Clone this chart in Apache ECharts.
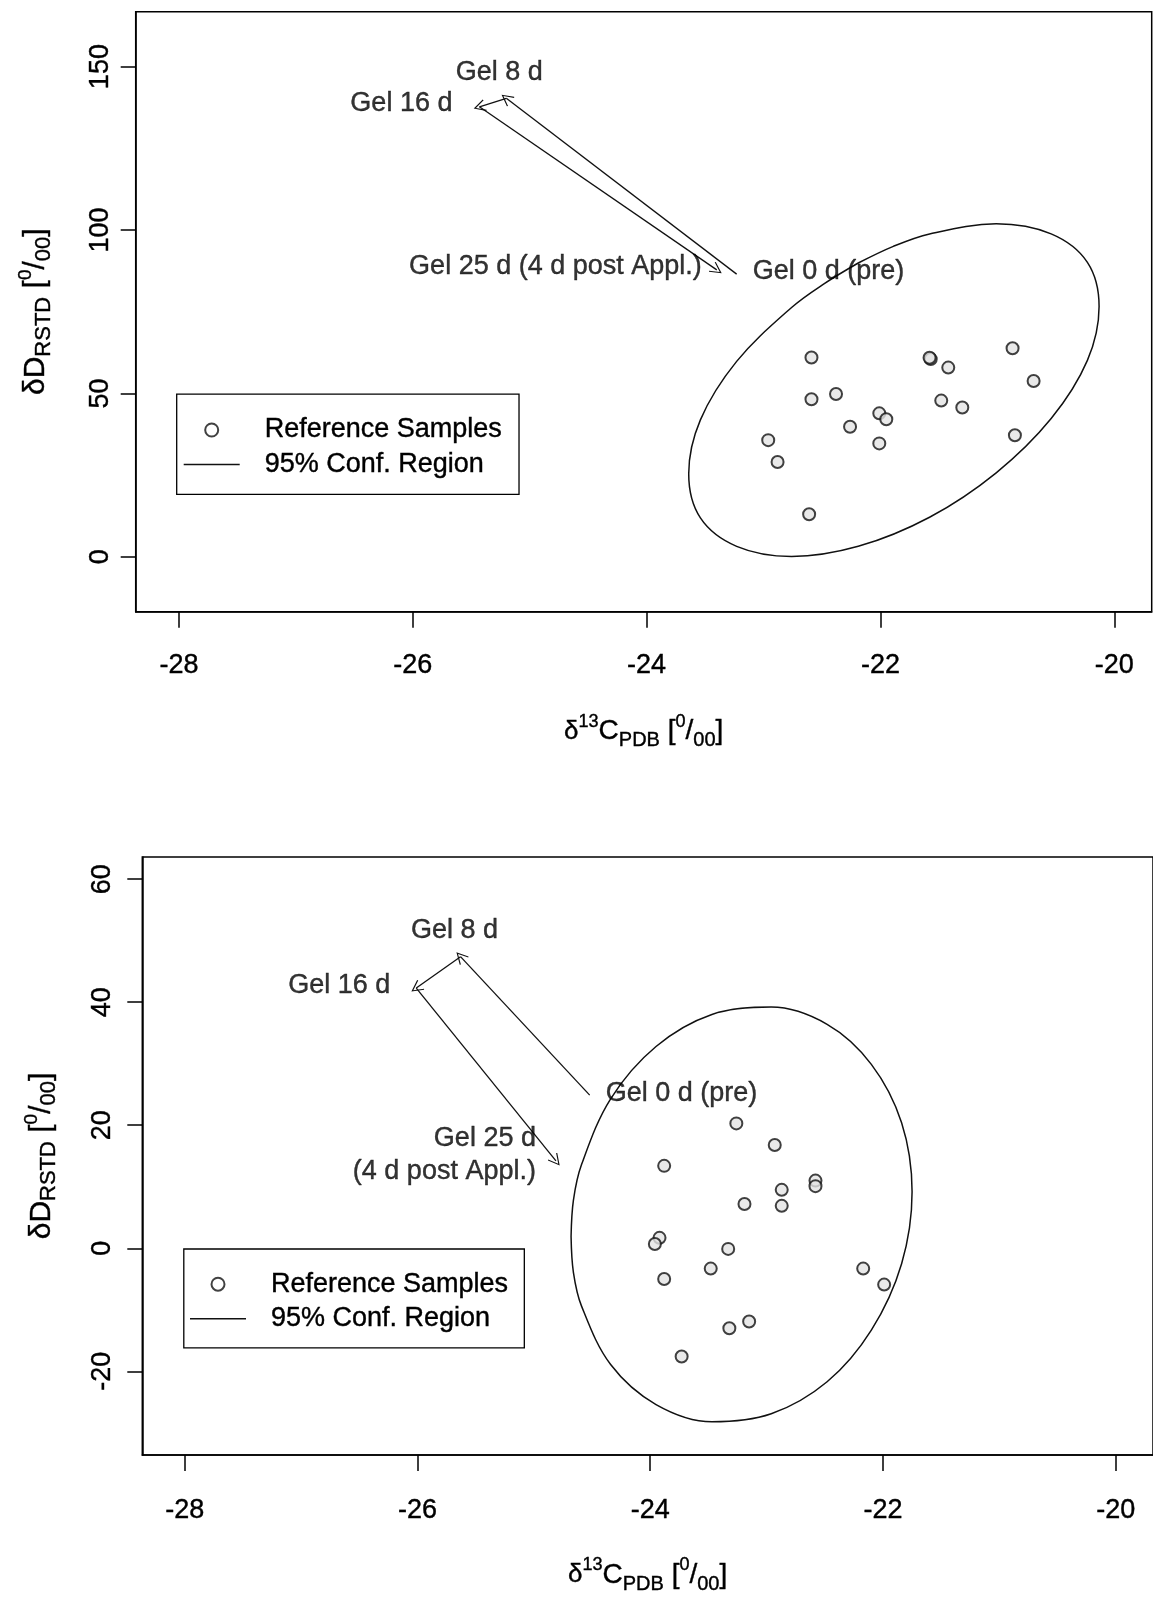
<!DOCTYPE html>
<html>
<head>
<meta charset="utf-8">
<script src="https://cdn.jsdelivr.net/npm/echarts@6/dist/echarts.min.js"></script>
<style>
  html, body { margin: 0; padding: 0; background: #fff; }
  #main { width: 1153px; height: 1602px; }
</style>
</head>
<body>
<div id="main"></div>
<script>
// tick labels
const xTicks = [-28, -26, -24, -22, -20];
const yTicksTop = [0, 50, 100, 150];
const yTicksBottom = [-20, 0, 20, 40, 60];

// upper panel: reference samples
const refTopX = [-22.59, -21.57, -21.58, -21.42, -20.87, -20.69, -22.59, -22.38, -22.01, -21.95,
                 -22.26, -21.48, -21.30, -20.85, -22.96, -22.88, -22.01, -22.61];
const refTopY = [61.0, 60.5, 60.9, 57.9, 63.8, 53.8, 48.2, 49.8, 43.9, 42.1,
                 39.8, 47.8, 45.7, 37.2, 35.7, 29.0, 34.7, 13.0];
// upper panel: 95% region outline
const ellTopX = [-22.19, -22.48, -22.76, -23.23, -23.54, -23.64, -23.54, -23.23, -22.76, -22.19, -21.58,
                 -21.01, -20.54, -20.23, -20.13, -20.23, -20.54, -21.01, -21.58, -21.89, -22.19];
const ellTopY = [89.9, 83.6, 76.3, 59.8, 41.9, 25.4, 11.9, 3.2, 0.1, 3.2, 12.1,
                 25.7, 42.3, 60.1, 76.6, 90.1, 98.8, 101.9, 98.8, 95.0, 89.9];
// upper panel: gel time course
const gelTopNames = ['Gel 0 d (pre)', 'Gel 8 d', 'Gel 16 d', 'Gel 25 d (4 d post Appl.)'];
const gelTopX = [-23.23, -25.20, -25.43, -23.40];
const gelTopY = [86.5, 140.3, 137.7, 87.8];

// lower panel: reference samples
const refBotX = [-23.26, -22.93, -23.88, -22.58, -22.58, -22.87, -23.19, -22.87, -23.92, -23.96,
                 -23.33, -23.48, -23.88, -22.17, -21.99, -23.32, -23.15, -23.73];
const refBotY = [20.3, 16.8, 13.4, 11.0, 10.1, 9.5, 7.2, 6.9, 1.7, 0.7,
                 -0.1, -3.3, -5.0, -3.3, -5.9, -13.0, -11.9, -17.6];
// lower panel: 95% region outline
const ellBotX = [-24.68, -24.66, -24.59, -24.34, -23.95, -23.47, -22.96, -22.48, -22.10, -21.84, -21.75,
                 -21.84, -22.10, -22.48, -22.96, -23.47, -23.95, -24.34, -24.59, -24.66, -24.68];
const ellBotY = [1.9, -3.9, -9.4, -18.9, -25.4, -28.2, -26.9, -21.7, -13.3, -2.5, 9.2,
                 20.4, 29.9, 36.4, 39.2, 38.0, 32.8, 24.3, 13.6, 7.8, 1.9];
// lower panel: gel time course
const gelBotNames = ['Gel 0 d (pre)', 'Gel 8 d', 'Gel 16 d', 'Gel 25 d\n(4 d post Appl.)'];
const gelBotX = [-24.52, -25.63, -26.01, -24.81];
const gelBotY = [24.9, 47.4, 42.3, 14.2];

const FONT = '"Liberation Sans", Arial, sans-serif';
const INK = { color: '#000', textBorderColor: '#000', textBorderWidth: 0.4 };
const arrowHead = 'path://M10,0 L20,16 L18.4,17 L10,3.4 L1.6,17 L0,16 Z';

function zip(xs, ys) { return xs.map((x, i) => [x, ys[i]]); }

// label placement relative to each gel point (pixels)
const gelLabelTop = [
  { align: 'left', offset: [16, -3] },
  { align: 'center', offset: [-7, -26] },
  { align: 'right', offset: [-27, -3] },
  { align: 'right', offset: [-15, -3] }
];
const gelLabelBot = [
  { align: 'left', offset: [16, -2] },
  { align: 'center', offset: [-6, -26] },
  { align: 'right', offset: [-26, -2] },
  { align: 'right', offset: [-20, -6] }
];

function gelSeries(idx, names, xs, ys, labelCfg) {
  const arrows = [];
  for (let i = 0; i < xs.length - 1; i++) {
    arrows.push({ coords: [[xs[i], ys[i]], [xs[i + 1], ys[i + 1]]] });
  }
  return [{
    type: 'lines',
    coordinateSystem: 'cartesian2d',
    xAxisIndex: idx, yAxisIndex: idx,
    data: arrows,
    symbol: ['none', arrowHead],
    symbolSize: [11, 12],
    lineStyle: { color: '#111', width: 1.3, opacity: 1 },
    silent: true, z: 3
  }, {
    type: 'scatter',
    xAxisIndex: idx, yAxisIndex: idx,
    symbolSize: 1,
    itemStyle: { color: 'rgba(0,0,0,0)' },
    data: names.map((n, i) => ({
      value: [xs[i], ys[i]], name: n,
      label: Object.assign({
        show: true, position: 'inside', verticalAlign: 'middle', formatter: '{b}',
        fontSize: 27, lineHeight: 33, fontFamily: FONT
      }, INK, labelCfg[i])
    })),
    silent: true, z: 4
  }];
}

function refSeries(idx, xs, ys) {
  return {
    name: 'Reference Samples', type: 'scatter',
    xAxisIndex: idx, yAxisIndex: idx,
    symbol: 'circle', symbolSize: 12,
    itemStyle: { color: '#e4e4e4', borderColor: '#111', borderWidth: 2 },
    data: zip(xs, ys), silent: true, z: 5
  };
}

function ellSeries(idx, xs, ys) {
  return {
    name: '95% Conf. Region', type: 'line',
    xAxisIndex: idx, yAxisIndex: idx,
    symbol: 'none', showSymbol: false, smooth: 0.35,
    itemStyle: { color: '#111' },
    lineStyle: { color: '#111', width: 1.5 },
    data: zip(xs, ys), silent: true, z: 2
  };
}

function richName(main, small, sup) {
  return {
    m: Object.assign({ fontSize: main, lineHeight: 38, fontFamily: FONT }, INK),
    d: Object.assign({ fontSize: main - 2, lineHeight: 38, fontFamily: FONT }, INK),
    sup: Object.assign({ fontSize: sup, verticalAlign: 'top', fontFamily: FONT }, INK),
    sub: Object.assign({ fontSize: small, verticalAlign: 'bottom', fontFamily: FONT }, INK)
  };
}
const xName = '{d|δ}{sup|13}{m|C}{sub|PDB}{m| [}{sup|0}{m|/}{sub|00}{m|]}';
const yName = '{m|δD}{sub|RSTD}{m| [}{sup|0}{m|/}{sub|00}{m|]}';

function xAxis(idx) {
  return {
    type: 'value', gridIndex: idx, min: idx === 0 ? -28.37 : -28.364, max: -19.68,
    name: xName, nameLocation: 'middle', nameGap: 101,
    nameTextStyle: { rich: richName(28, 20, 18) },
    axisLine: { show: true, onZero: false, lineStyle: { color: '#000', width: 1.5 } },
    axisTick: { show: true, customValues: xTicks, length: 16, inside: false,
                lineStyle: { color: '#000', width: 1.5 } },
    axisLabel: Object.assign({ customValues: xTicks, margin: idx === 0 ? 40 : 42, fontSize: 27,
                 fontFamily: FONT }, INK),
    splitLine: { show: false }
  };
}

function yAxis(idx, min, max, ticks) {
  return {
    type: 'value', gridIndex: idx, min: min, max: max,
    name: yName, nameLocation: 'middle', nameGap: idx === 0 ? 81 : 82,
    nameTextStyle: { rich: richName(30, 22, 19) },
    axisLine: { show: true, onZero: false, lineStyle: { color: '#000', width: 1.5 } },
    axisTick: { show: true, customValues: ticks, length: 15, inside: false,
                lineStyle: { color: '#000', width: 1.5 } },
    axisLabel: Object.assign({ customValues: ticks, rotate: 90, margin: idx === 0 ? 22 : 26, fontSize: 27,
                 fontFamily: FONT }, INK),
    splitLine: { show: false }
  };
}

function legend(left, top, padding) {
  return {
    orient: 'vertical', left: left, top: top, padding: padding,
    selectedMode: false,
    borderColor: '#000', borderWidth: 1.3,
    itemWidth: 56, itemHeight: 13, itemGap: 4.6,
    textStyle: Object.assign({ fontSize: 27, lineHeight: 30, fontFamily: FONT,
                 padding: [0, 0, 0, 20] }, INK),
    data: [
      { name: 'Reference Samples', icon: 'circle',
        itemStyle: { color: '#fff', borderColor: '#111', borderWidth: 2 } },
      { name: '95% Conf. Region', icon: 'path://M0,0 L56,0 L56,1.5 L0,1.5 Z',
        itemStyle: { color: '#111', borderWidth: 0 } }
    ]
  };
}

const chart = echarts.init(document.getElementById('main'), null, { renderer: 'canvas' });
const option = {
  animation: false,
  backgroundColor: '#fff',
  grid: [
    { left: 135.7, top: 11.7, width: 1016, height: 600, show: true,
      borderColor: '#000', borderWidth: 1.5, backgroundColor: 'transparent' },
    { left: 142.3, top: 857, width: 1016, height: 598, show: true,
      borderColor: '#000', borderWidth: 1.5, backgroundColor: 'transparent' }
  ],
  xAxis: [xAxis(0), xAxis(1)],
  yAxis: [yAxis(0, -16.8, 166.8, yTicksTop), yAxis(1, -33.6, 63.6, yTicksBottom)],
  legend: [
    legend(176.7, 394.2, [20.8, 17, 14.7, 7]),
    legend(183.8, 1249, [20.2, 16, 14, 6.2])
  ],
  series: [
    ellSeries(0, ellTopX, ellTopY),
    refSeries(0, refTopX, refTopY),
    ...gelSeries(0, gelTopNames, gelTopX, gelTopY, gelLabelTop),
    ellSeries(1, ellBotX, ellBotY),
    refSeries(1, refBotX, refBotY),
    ...gelSeries(1, gelBotNames, gelBotX, gelBotY, gelLabelBot)
  ]
};
chart.setOption(option);
</script>
</body>
</html>
